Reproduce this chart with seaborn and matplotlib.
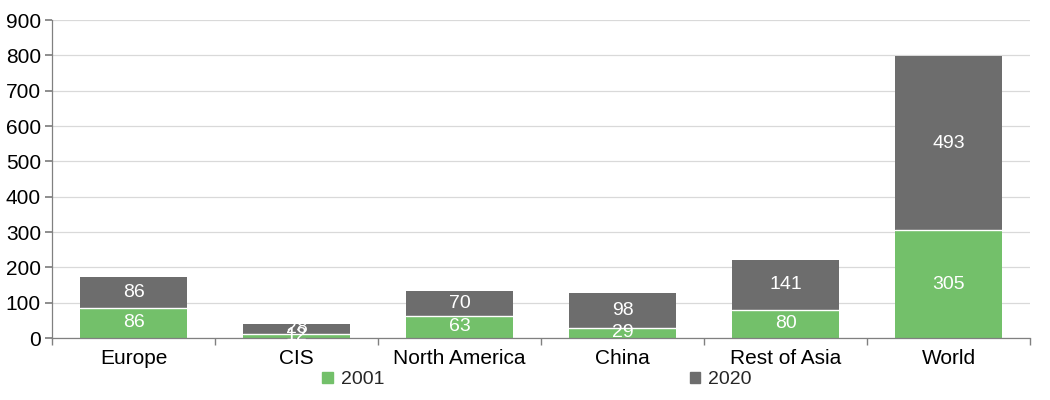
import matplotlib
matplotlib.use("Agg")
import matplotlib.pyplot as plt
import seaborn as sns
import pandas as pd
from matplotlib.patches import Patch

# --- chart data ---
regions = ["Europe", "CIS", "North America", "China", "Rest of Asia", "World"]
values_2001 = [86, 12, 63, 29, 80, 305]
values_2020 = [86, 28, 70, 98, 141, 493]
y_ticks = [0, 100, 200, 300, 400, 500, 600, 700, 800, 900]

GREEN = "#73c06a"
GREY = "#6d6d6d"

sns.set_theme(style="white")
plt.rcParams["font.family"] = ["Liberation Sans", "DejaVu Sans"]

df = pd.DataFrame({"Region": regions, "2001": values_2001, "2020": values_2020})
df["Total"] = df["2001"] + df["2020"]

fig = plt.figure(figsize=(10.5, 4), dpi=100)
ax = fig.add_axes([52 / 1050, 1 - 338 / 400, (1030 - 52) / 1050, (338 - 20) / 400])

# stacked bars: total in grey, 2001 on top of it in green
sns.barplot(data=df, x="Region", y="Total", color=GREY, width=0.66,
            saturation=1, ax=ax, edgecolor="none")
sns.barplot(data=df, x="Region", y="2001", color=GREEN, width=0.66,
            saturation=1, ax=ax, edgecolor="none")

# thin white separator between the two segments
for i, v in enumerate(df["2001"]):
    ax.plot([i - 0.33, i + 0.33], [v, v], color="white", lw=1, zorder=3)

# value labels in the middle of each segment
for i, row in df.iterrows():
    ax.text(i, row["2001"] / 2, f"{row['2001']}", ha="center", va="center",
            color="white", fontsize=14, zorder=4)
    ax.text(i, row["2001"] + row["2020"] / 2, f"{row['2020']}", ha="center",
            va="center", color="white", fontsize=14, zorder=4)

ax.set_ylim(0, 900)
ax.set_xlim(-0.5, len(regions) - 0.5)
ax.set_yticks(y_ticks)
ax.yaxis.grid(True, color="#d9d9d9", lw=0.9)
ax.set_axisbelow(True)
ax.set_xlabel("")
ax.set_ylabel("")

for side in ["top", "right"]:
    ax.spines[side].set_visible(False)
for side in ["left", "bottom"]:
    ax.spines[side].set_color("#808080")
    ax.spines[side].set_linewidth(0.9)

ax.tick_params(axis="y", left=True, length=5, color="#808080", labelsize=15,
               labelcolor="black", pad=3)
ax.tick_params(axis="x", bottom=False, labelsize=15, labelcolor="black", pad=2)
# category boundary ticks, Excel style
ax.set_xticks([i - 0.5 for i in range(len(regions) + 1)], minor=True)
ax.tick_params(axis="x", which="minor", bottom=True, length=5, color="#808080")

handles = [Patch(color=GREEN, label="2001"), Patch(color=GREY, label="2020")]
fig.legend(handles=handles, loc="center", bbox_to_anchor=(537 / 1050, 1 - 380 / 400),
           ncol=2, frameon=False, fontsize=14, handlelength=0.55, handleheight=0.55,
           handletextpad=0.4, columnspacing=15.7)

fig.savefig("out.png", dpi=100)
